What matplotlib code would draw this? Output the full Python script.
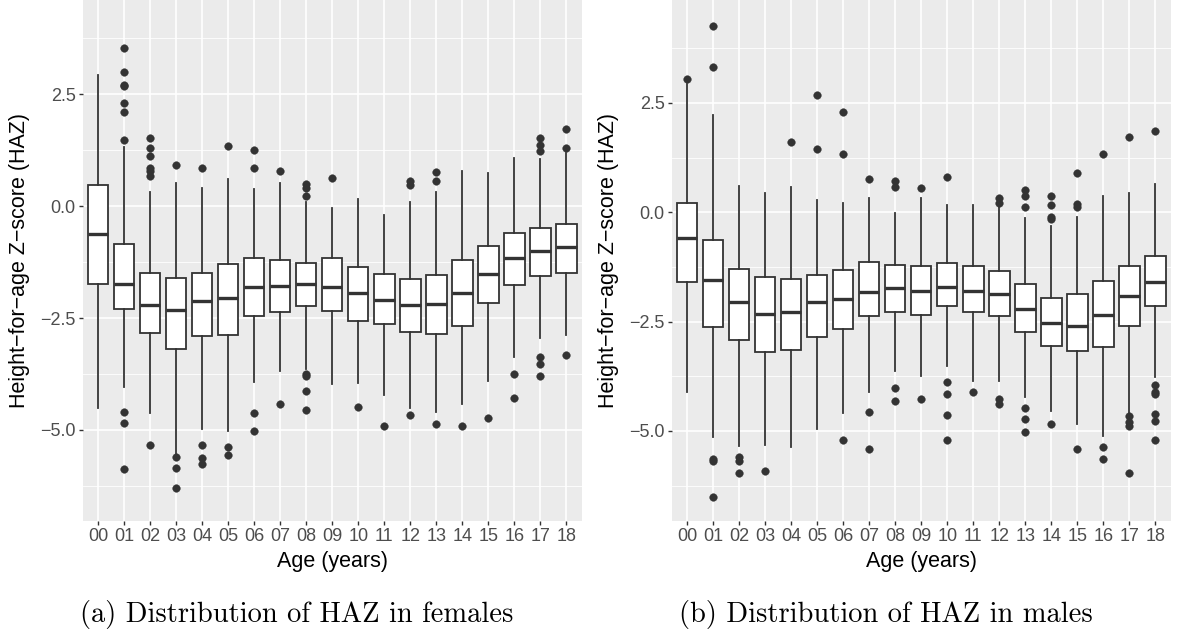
import matplotlib
matplotlib.use("Agg")
import matplotlib.pyplot as plt
from matplotlib.ticker import FixedLocator, FuncFormatter

ages = ["00", "01", "02", "03", "04", "05", "06", "07", "08", "09",
        "10", "11", "12", "13", "14", "15", "16", "17", "18"]

# females: lower whisker, q1, median, q3, upper whisker
f_whislo = [-4.52, -4.05, -4.63, -5.53, -4.98, -5.03, -3.93, -3.68, -3.63, -3.98,
            -3.94, -4.21, -4.50, -4.60, -4.42, -3.90, -3.37, -2.94, -2.88]
f_q1 = [-1.73, -2.30, -2.83, -3.20, -2.90, -2.87, -2.46, -2.37, -2.24, -2.34,
        -2.57, -2.63, -2.81, -2.85, -2.67, -2.16, -1.76, -1.56, -1.50]
f_med = [-0.62, -1.75, -2.21, -2.33, -2.13, -2.05, -1.80, -1.79, -1.75, -1.80,
         -1.94, -2.10, -2.21, -2.18, -1.94, -1.52, -1.17, -1.01, -0.91]
f_q3 = [0.47, -0.85, -1.50, -1.60, -1.50, -1.30, -1.17, -1.21, -1.27, -1.17,
        -1.36, -1.52, -1.64, -1.55, -1.21, -0.90, -0.61, -0.49, -0.39]
f_whishi = [2.92, 1.31, 0.32, 0.52, 0.40, 0.60, 0.37, 0.51, 0.08, -0.04,
            0.16, -0.19, 0.09, 0.32, 0.79, 0.74, 1.08, 1.05, 1.19]
f_out = [
    [],
    [3.52, 3.00, 2.71, 2.67, 2.31, 2.09, 1.47, -4.60, -4.84, -5.87],
    [1.51, 1.29, 1.11, 0.86, 0.78, 0.68, -5.33],
    [0.92, -5.61, -5.85, -6.29],
    [0.86, -5.33, -5.63, -5.77],
    [1.33, -5.39, -5.55],
    [1.26, 0.85, -4.62, -5.03],
    [0.79, -4.41],
    [0.50, 0.40, 0.22, -3.75, -3.80, -4.12, -4.56],
    [0.63],
    [-4.48],
    [-4.91],
    [0.56, 0.46, -4.66],
    [0.76, 0.56, -4.87],
    [-4.90],
    [-4.74],
    [-3.75, -4.28],
    [1.53, 1.36, 1.23, -3.37, -3.53, -3.80],
    [1.72, 1.29, -3.33],
]

# males
m_whislo = [-4.10, -5.14, -5.34, -5.33, -5.37, -4.96, -4.59, -4.11, -3.63, -3.74,
            -3.51, -3.86, -3.86, -4.22, -4.55, -4.84, -5.11, -4.61, -3.76]
m_q1 = [-1.60, -2.62, -2.93, -3.19, -3.15, -2.86, -2.68, -2.37, -2.29, -2.35,
        -2.15, -2.29, -2.37, -2.74, -3.06, -3.17, -3.07, -2.59, -2.15]
m_med = [-0.59, -1.56, -2.06, -2.33, -2.28, -2.06, -1.98, -1.83, -1.73, -1.79,
         -1.71, -1.79, -1.86, -2.22, -2.54, -2.60, -2.35, -1.92, -1.59]
m_q3 = [0.21, -0.64, -1.30, -1.48, -1.52, -1.43, -1.32, -1.14, -1.20, -1.24,
        -1.16, -1.22, -1.34, -1.63, -1.95, -1.87, -1.57, -1.24, -0.99]
m_whishi = [2.93, 2.22, 0.59, 0.43, 0.57, 0.27, 0.20, 0.33, -0.02, 0.33,
            0.16, 0.16, 0.11, -0.14, -0.32, -0.10, 0.37, 0.43, 0.65]
m_out = [
    [3.05],
    [4.25, 3.32, -5.63, -5.69, -6.50],
    [-5.59, -5.69, -5.95],
    [-5.91],
    [1.61],
    [2.69, 1.45],
    [2.28, 1.33, -5.20],
    [0.76, -4.57, -5.42],
    [0.72, 0.57, -4.02, -4.32],
    [0.55, -4.28],
    [0.80, -3.89, -4.16, -4.63, -5.20],
    [-4.12],
    [0.33, 0.21, -4.27, -4.39],
    [0.51, 0.37, 0.11, -4.47, -4.73, -5.03],
    [0.37, 0.17, -0.11, -0.16, -4.85],
    [0.89, 0.19, 0.11, -5.42],
    [1.32, -5.37, -5.65],
    [1.73, -4.65, -4.80, -4.88, -5.97],
    [1.86, -3.96, -4.12, -4.16, -4.61, -4.77, -5.20],
]

captions = ["(a) Distribution of HAZ in females", "(b) Distribution of HAZ in males"]

W, H = 1177, 631
plt.rcParams["font.family"] = ["Liberation Sans", "DejaVu Sans"]

fig = plt.figure(figsize=(W / 100, H / 100), dpi=100)

DARK = "#333333"


def panel(left_px, lo, q1, med, q3, hi, out, ylim, caption):
    x0, x1, y0, y1 = left_px, left_px + 499.3, 0, 520.7
    ax = fig.add_axes([x0 / W, 1 - y1 / H, (x1 - x0) / W, (y1 - y0) / H])
    ax.set_facecolor("#EBEBEB")
    for s in ax.spines.values():
        s.set_visible(False)

    stats = []
    for i in range(len(ages)):
        stats.append(dict(whislo=lo[i], q1=q1[i], med=med[i], q3=q3[i],
                          whishi=hi[i], fliers=out[i]))
    ax.bxp(stats, positions=range(len(ages)), widths=0.78, patch_artist=True,
           showcaps=False,
           boxprops=dict(facecolor="white", edgecolor=DARK, linewidth=1.3),
           whiskerprops=dict(color=DARK, linewidth=1.3),
           medianprops=dict(color=DARK, linewidth=2.4, solid_capstyle="butt"),
           flierprops=dict(marker="o", markersize=5.5, markerfacecolor=DARK,
                           markeredgecolor=DARK, markeredgewidth=0.3))

    ax.set_xlim(-0.6, len(ages) - 0.4)
    ax.set_ylim(*ylim)
    ax.set_xticks(range(len(ages)))
    ax.set_xticklabels(ages)
    ax.yaxis.set_major_locator(FixedLocator([-5.0, -2.5, 0.0, 2.5]))
    ax.yaxis.set_minor_locator(FixedLocator([-6.25, -3.75, -1.25, 1.25, 3.75]))
    ax.yaxis.set_major_formatter(FuncFormatter(lambda v, p: f"{v:.1f}".replace("-", "\u2212")))
    ax.set_axisbelow(True)
    ax.grid(True, which="major", color="white", linewidth=1.2)
    ax.grid(True, which="minor", axis="y", color="white", linewidth=0.6)
    ax.tick_params(which="major", length=3, width=1.0, color=DARK,
                   labelcolor="#4D4D4D", labelsize=13, pad=2)
    ax.tick_params(which="minor", length=0)

    cx = (x0 + x1) / 2
    fig.text(cx / W, 1 - 562 / H, "Age (years)", ha="center", va="center",
             fontsize=15.5, color="black")
    fig.text((x0 - 63.5) / W, 1 - 260 / H,
             "Height\u2212for\u2212age Z\u2212score (HAZ)", rotation=90,
             ha="center", va="center", fontsize=15.5, color="black")
    fig.text((cx - 35.5) / W, 1 - 622 / H, caption, ha="center",
             va="baseline", fontsize=20.5, family="cmr10", color="black")
    return ax


panel(82.7, f_whislo, f_q1, f_med, f_q3, f_whishi, f_out, (-7.025, 4.6), captions[0])
panel(671.7, m_whislo, m_q1, m_med, m_q3, m_whishi, m_out, (-7.05, 4.85), captions[1])

fig.savefig("out.png", dpi=100, facecolor="white")
